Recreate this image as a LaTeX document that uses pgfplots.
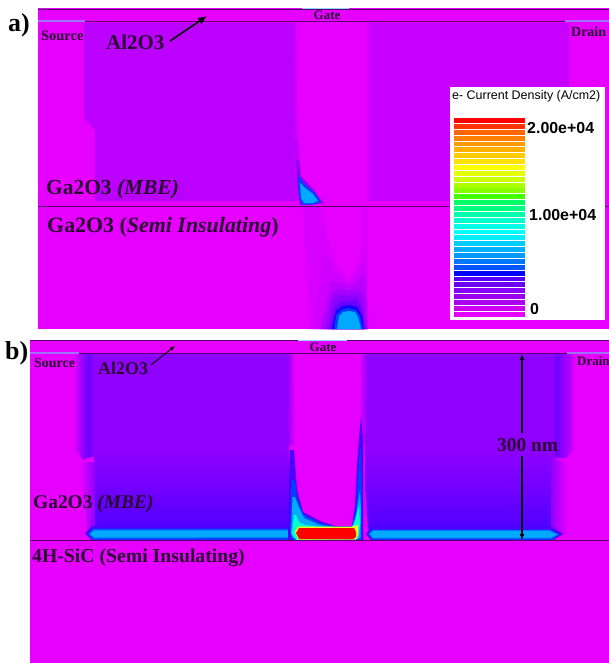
\documentclass[border=0pt]{standalone}
\usepackage{pgfplots}
\pgfplotsset{compat=1.18}
\usetikzlibrary{arrows.meta}
\usepackage{fontspec}
\setmainfont{Liberation Serif}
\newfontfamily\legfont{Liberation Sans}
\definecolor{mg}{HTML}{E600FF}
\definecolor{txt}{HTML}{2A0030}
\definecolor{lin}{HTML}{5A0070}
\definecolor{con}{HTML}{A070FF}
\definecolor{gatec}{HTML}{90D8FF}
\definecolor{La}{HTML}{BC00FF}
\definecolor{Lb}{HTML}{C800FF}
\definecolor{Lc}{HTML}{D800FF}
\definecolor{Q0}{HTML}{D000FF}
\definecolor{P1}{HTML}{BC00FF}
\definecolor{Q1}{HTML}{A400FF}
\definecolor{P2}{HTML}{8C00FF}
\definecolor{Q2}{HTML}{6C00FF}
\definecolor{P3}{HTML}{4C00FF}
\definecolor{P4}{HTML}{1000FF}
\definecolor{B1}{HTML}{0040FF}
\definecolor{B2}{HTML}{0078FF}
\definecolor{C1}{HTML}{00AAFF}
\definecolor{C2}{HTML}{00FFCC}
\definecolor{Ye}{HTML}{E8FF20}
\definecolor{Re}{HTML}{FF0000}
\definecolor{Mb}{HTML}{9000FF}
\definecolor{Bb}{HTML}{5000FF}
\definecolor{Sb}{HTML}{6800FF}
\pgfdeclareverticalshading{mainb}{100bp}{color(0bp)=(Bb); color(26bp)=(Bb); color(33bp)=(Sb); color(48bp)=(Mb); color(100bp)=(Mb)}
\definecolor{Aa}{HTML}{FF0000}\definecolor{Ab}{HTML}{FF3300}\definecolor{Ac}{HTML}{FF6600}\definecolor{Ad}{HTML}{FF7F00}
\definecolor{Ae}{HTML}{FF9900}\definecolor{Af}{HTML}{FFB000}\definecolor{Ag}{HTML}{FFCC00}\definecolor{Ah}{HTML}{FFE000}
\definecolor{Ai}{HTML}{FFFF00}\definecolor{Aj}{HTML}{E6FF00}\definecolor{Ak}{HTML}{CCFF00}\definecolor{Al}{HTML}{AAFF00}
\definecolor{Am}{HTML}{88FF00}\definecolor{An}{HTML}{44FF00}\definecolor{Ao}{HTML}{00FF66}\definecolor{Ap}{HTML}{00FF80}
\definecolor{Aq}{HTML}{00FFAA}\definecolor{Ar}{HTML}{00FFCC}\definecolor{As}{HTML}{00FFE6}\definecolor{At}{HTML}{00FFFF}
\definecolor{Au}{HTML}{00EEFF}\definecolor{Av}{HTML}{00CCFF}\definecolor{Aw}{HTML}{00B0FF}\definecolor{Ax}{HTML}{0099FF}
\definecolor{Ay}{HTML}{0077FF}\definecolor{Az}{HTML}{0055FF}\definecolor{Ba}{HTML}{0000FF}\definecolor{Bc}{HTML}{5500FF}
\definecolor{Bd}{HTML}{6A00EE}\definecolor{Be}{HTML}{8800FF}\definecolor{Bf}{HTML}{9900EE}\definecolor{Bg}{HTML}{AA00EE}
\definecolor{Bh}{HTML}{CC00EE}\definecolor{Bi}{HTML}{E600FF}
\newcommand\band[3]{\addplot[fill=#1,draw=none] coordinates {(454,#2)(525,#2)(525,#3)(454,#3)} -- cycle;}
\begin{document}
\begin{tikzpicture}
\begin{axis}[name=ax,scale only axis,width=609bp,height=663bp,xmin=0,xmax=609,ymin=0,ymax=663,y dir=reverse,axis lines=none,clip=false]
% ---------- panel a ----------
\addplot[fill=mg,draw=none] coordinates {(38,8)(609,8)(609,329)(38,329)} -- cycle;
\addplot[fill=La,draw=none] coordinates {(84,23)(291,23)(292,100)(295,170)(298,201)(95,201)(95,130)(84,118)} -- cycle;
\addplot[fill=Lb,draw=none] coordinates {(370,23)(569,23)(569,201)(370,201)} -- cycle;
\addplot[draw=none,shade,left color=La,right color=mg] coordinates {(291,23)(296,23)(297,100)(300,170)(303,201)(298,201)(295,170)(292,100)} -- cycle;
\addplot[draw=none,shade,left color=mg,right color=Lb] coordinates {(365,23)(370,23)(370,201)(365,201)} -- cycle;
\addplot[fill=Lc,draw=none] coordinates {(303,207)(367,207)(367,329)(310,329)} -- cycle;
\addplot[fill=mg,draw=none] coordinates {(320,207)(363,207)(362,240)(358,265)(348,280)(338,268)(330,245)} -- cycle;
\addplot[fill=Q0,draw=none] coordinates {(322,250)(335,272)(348,283)(358,272)(366,255)(368,329)(314,329)} -- cycle;
\addplot[fill=P1,draw=none] coordinates {(320,329)(330,282)(340,282)(348,286)(357,280)(366,272)(368,329)} -- cycle;
\addplot[fill=Q1,draw=none] coordinates {(323,329)(331,295)(339,289)(348,291)(357,288)(365,294)(367,329)} -- cycle;
\addplot[fill=P2,draw=none] coordinates {(326,329)(333,300)(340,295)(348,296)(356,294)(362,302)(366,329)} -- cycle;
\addplot[fill=Q2,draw=none] coordinates {(329,329)(335,306)(342,301)(349,301)(356,300)(361,307)(365,329)} -- cycle;
\addplot[fill=P4,draw=none] coordinates {(332,329)(336,311)(342,306)(350,305)(357,307)(362,316)(364,329)} -- cycle;
\addplot[fill=B1,draw=none] coordinates {(334,329)(336,315)(341,310)(348,308)(356,310)(360,316)(363,329)} -- cycle;
\addplot[fill=C1,draw=none] coordinates {(337,329)(339,316)(343,312)(349,311)(355,312)(358,317)(361,329)} -- cycle;
\addplot[fill=P1,draw=none] coordinates {(295,140)(298,140)(300,175)(312,190)(325,204)(300,205)(296,190)} -- cycle;
\addplot[fill=P2,draw=none] coordinates {(296,160)(299,160)(301,176)(313,189)(323,203)(300,205)(298,190)} -- cycle;
\addplot[fill=B1,draw=none] coordinates {(298,176)(300,178)(304,184)(314,192)(321,202)(313,204.5)(302,204.5)(299,195)} -- cycle;
\addplot[fill=C1,draw=none] coordinates {(300,183)(305,188)(313,194)(318,201)(313,203)(304,203)(301,198)} -- cycle;
\addplot[draw=lin,line width=0.9pt] coordinates {(38,9)(609,9)};
\addplot[draw=lin,line width=0.9pt] coordinates {(85,21)(565,21)};
\addplot[draw=con,line width=1.2pt] coordinates {(38,21)(85,21)};
\addplot[draw=con,line width=1.2pt] coordinates {(565,21)(609,21)};
\addplot[draw=gatec,line width=1.2pt] coordinates {(302,8.5)(349,8.5)};
\addplot[draw=lin,line width=0.9pt] coordinates {(38,206)(609,206)};
\addplot[-{Latex[length=9pt,width=8pt]},draw=black,line width=1.6pt] coordinates {(170,41)(207,16)};
% legend
\addplot[fill=white,draw=none] coordinates {(450,87)(605,87)(605,320)(450,320)} -- cycle;
\band{Aa}{118.0}{122.9}\band{Ab}{123.9}{128.8}\band{Ac}{129.7}{134.6}\band{Ad}{135.6}{140.5}
\band{Ae}{141.5}{146.4}\band{Af}{147.4}{152.3}\band{Ag}{153.2}{158.1}\band{Ah}{159.1}{164.0}
\band{Ai}{165.0}{169.9}\band{Aj}{170.8}{175.7}\band{Ak}{176.7}{181.6}\band{Al}{182.6}{187.5}
\band{Am}{188.4}{193.3}\band{An}{194.3}{199.2}\band{Ao}{200.2}{205.1}\band{Ap}{206.1}{211.0}
\band{Aq}{211.9}{216.8}\band{Ar}{217.8}{222.7}\band{As}{223.7}{228.6}\band{At}{229.5}{234.4}
\band{Au}{235.4}{240.3}\band{Av}{241.3}{246.2}\band{Aw}{247.1}{252.0}\band{Ax}{253.0}{257.9}
\band{Ay}{258.9}{263.8}\band{Az}{264.8}{269.7}\band{Ba}{270.6}{275.5}\band{Bc}{276.5}{281.4}
\band{Bd}{282.4}{287.3}\band{Be}{288.2}{293.1}\band{Bf}{294.1}{299.0}\band{Bg}{300.0}{304.9}
\band{Bh}{305.8}{310.7}\band{Bi}{311.7}{316.6}
% ---------- panel b ----------
\addplot[fill=mg,draw=none] coordinates {(30,340)(609,340)(609,663)(30,663)} -- cycle;
\addplot[draw=none,shade,left color=Lb,right color=Sb] coordinates {(76,354)(89,354)(89,456)(84,460)(80,456)(76,450)} -- cycle;
\addplot[draw=none,shade,left color=Sb,right color=Mb] coordinates {(88,354)(94,354)(94,456)(88,458)} -- cycle;
\addplot[draw=none,shade,left color=mg,right color=Mb] coordinates {(80,462)(95,462)(95,535)(88,535)} -- cycle;
\addplot[draw=none,shading=mainb] coordinates {(93,354)(287,354)(289,445)(292,530)(95,530)(95,462)(93,456)} -- cycle;
\addplot[draw=none,shading=mainb] coordinates {(367,354)(555,354)(555,456)(551,465)(551,530)(368,530)(365,480)} -- cycle;
\addplot[draw=none,shade,left color=Mb,right color=mg] coordinates {(287,354)(293,354)(295,445)(289,445)} -- cycle;
\addplot[draw=none,shade,left color=mg,right color=Mb] coordinates {(361,354)(367,354)(365,445)(359,445)} -- cycle;
\addplot[draw=none,shade,left color=Sb,right color=Lb] coordinates {(555,354)(573,354)(573,450)(566,458)(555,458)} -- cycle;
\addplot[draw=none,shade,left color=Mb,right color=mg] coordinates {(551,458)(567,462)(567,535)(551,535)} -- cycle;
\addplot[fill=P3,draw=none] coordinates {(85,533)(92,526)(292,526)(292,540)(92,540)} -- cycle;
\addplot[fill=B1,draw=none] coordinates {(88,534)(93,528.5)(292,528.5)(292,539.5)(93,539.5)} -- cycle;
\addplot[fill=B2,draw=none] coordinates {(89,534)(94,529.5)(291,529.5)(292,538)(94,538.5)} -- cycle;
\addplot[fill=C1,draw=none] coordinates {(90,534)(95,530.5)(290,530.5)(292,537)(95,537.5)} -- cycle;
\addplot[fill=P3,draw=none] coordinates {(366,534)(371,527)(552,527)(563,534)(553,540)(371,540)} -- cycle;
\addplot[fill=B1,draw=none] coordinates {(368,534)(372,529.5)(550,529.5)(560,534.5)(552,539.5)(372,539.5)} -- cycle;
\addplot[fill=B2,draw=none] coordinates {(369,534)(372.5,530.2)(550,530.2)(558.5,534.5)(551.5,538.5)(372.5,538.5)} -- cycle;
\addplot[fill=C1,draw=none] coordinates {(370,534)(373,531)(549,531)(557,534.5)(551,537.5)(373,537.5)} -- cycle;
% centre, outside in
\addplot[fill=P3,draw=none] coordinates {(290,450)(294,450)(297,490)(303,512)(320,521)(335,526)(352,526)(355,505)(358,450)(361,415)(363,440)(363,540)(288,540)(288,530)} -- cycle;
\addplot[fill=B1,draw=none] coordinates {(291.5,480)(295,480)(297,497)(303,514)(320,523)(335,526.5)(352,526.5)(356,510)(359,460)(361,445)(362,500)(361.5,540)(292,540)(290,532)} -- cycle;
\addplot[fill=C1,draw=none] coordinates {(292.5,497)(295,497)(298,505)(304,518)(320,525)(335,527)(352,527)(356,515)(360,490)(361,510)(360.5,538)(293,538)(291,534)} -- cycle;
\addplot[fill=C2,draw=none] coordinates {(294,515)(296,515)(299,522)(305,525)(320,527)(352,527)(355,522)(359,505)(360,525)(358,539)(296,540)(292,534)} -- cycle;
\addplot[fill=Ye,draw=none] coordinates {(295,532)(298,526.5)(352,526.5)(358,525)(358,535)(356,539.5)(298,539.5)} -- cycle;
\addplot[fill=Re,draw=none] coordinates {(296,533)(299,528)(354,528)(356,532)(356,537)(353,539)(299,539)} -- cycle;
\addplot[draw=lin,line width=0.9pt] coordinates {(30,340)(609,340)};
\addplot[draw=lin,line width=1pt] coordinates {(79,353)(567,353)};
\addplot[draw=con,line width=1.2pt] coordinates {(30,353)(79,353)};
\addplot[draw=con,line width=1.2pt] coordinates {(567,353)(609,353)};
\addplot[draw=gatec,line width=1.2pt] coordinates {(298,340.5)(347,340.5)};
\addplot[draw=lin,line width=0.9pt] coordinates {(30,540)(609,540)};
\addplot[-{Latex[length=5pt,width=4pt]},draw=black,line width=0.9pt] coordinates {(151,365)(175,346)};
\addplot[{Latex[length=6pt,width=5pt]}-,draw=black,line width=1.4pt] coordinates {(522,354)(522,433)};
\addplot[{Latex[length=6pt,width=5pt]}-,draw=black,line width=1.4pt] coordinates {(522,540)(522,456)};
% ---------- text ----------
\node[anchor=west,inner sep=0pt,text=black,font=\fontsize{26}{26}\selectfont\bfseries] at (axis cs:8,25) {a)};
\node[anchor=west,inner sep=0pt,text=black,font=\fontsize{26}{26}\selectfont\bfseries] at (axis cs:5,353) {b)};
\node[text=txt,inner sep=0pt,font=\fontsize{13}{13}\selectfont\bfseries] at (axis cs:327,15) {Gate};
\node[text=txt,inner sep=0pt,font=\fontsize{13}{13}\selectfont\bfseries] at (axis cs:323,347) {Gate};
\node[anchor=west,text=txt,inner sep=0pt,font=\fontsize{14.5}{14}\selectfont\bfseries] at (axis cs:41,36) {Source};
\node[anchor=west,text=txt,inner sep=0pt,font=\fontsize{14}{14}\selectfont\bfseries] at (axis cs:571,32) {Drain};
\node[anchor=west,text=txt,inner sep=0pt,font=\fontsize{14}{14}\selectfont\bfseries] at (axis cs:34,363) {Source};
\node[anchor=west,text=txt,inner sep=0pt,font=\fontsize{13}{13}\selectfont\bfseries] at (axis cs:577,361) {Drain};
\node[anchor=west,text=txt,inner sep=0pt,font=\fontsize{21}{21}\selectfont\bfseries] at (axis cs:106,42) {Al2O3};
\node[anchor=west,text=txt,inner sep=0pt,font=\fontsize{18}{18}\selectfont\bfseries] at (axis cs:98,368) {Al2O3};
\node[anchor=west,text=txt,inner sep=0pt,font=\fontsize{21.5}{21}\selectfont\bfseries] at (axis cs:46,189) {Ga2O3 \textit{(MBE)}};
\node[anchor=west,text=txt,inner sep=0pt,font=\fontsize{22}{22}\selectfont\bfseries] at (axis cs:47,227) {Ga2O3 (\textit{Semi Insulating})};
\node[anchor=west,text=txt,inner sep=0pt,font=\fontsize{19.5}{19}\selectfont\bfseries] at (axis cs:33,504) {Ga2O3 \textit{(MBE)}};
\node[anchor=west,text=txt,inner sep=0pt,font=\fontsize{19.8}{19}\selectfont\bfseries] at (axis cs:32,558) {4H-SiC (Semi Insulating)};
\node[anchor=west,text=txt,inner sep=0pt,font=\fontsize{19.5}{19}\selectfont\bfseries] at (axis cs:497,445) {300 nm};
\node[anchor=west,text=black,inner sep=0pt,font=\legfont\fontsize{12.5}{13}\selectfont] at (axis cs:452,96) {e- Current Density (A/cm2)};
\node[anchor=west,text=black,inner sep=0pt,font=\legfont\fontsize{16}{16}\selectfont\bfseries] at (axis cs:527,128) {2.00e+04};
\node[anchor=west,text=black,inner sep=0pt,font=\legfont\fontsize{16}{16}\selectfont\bfseries] at (axis cs:529,215) {1.00e+04};
\node[anchor=west,text=black,inner sep=0pt,font=\legfont\fontsize{16}{16}\selectfont\bfseries] at (axis cs:530,309) {0};
\end{axis}
\pgfresetboundingbox
\path[use as bounding box] (0,0) rectangle (609bp,663bp);
\end{tikzpicture}
\end{document}
